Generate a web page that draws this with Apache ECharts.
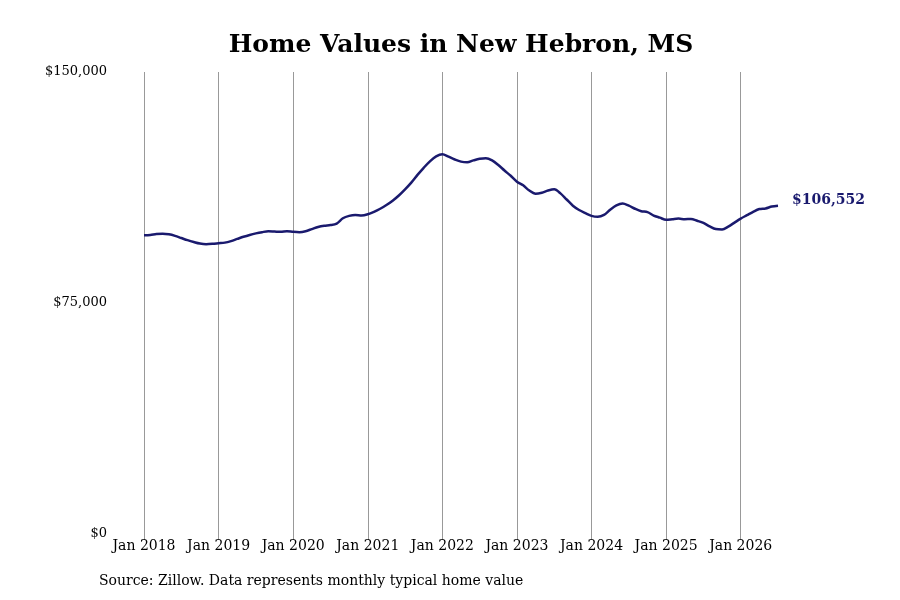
<!DOCTYPE html>
<html lang="en">
<head>
    <meta charset="UTF-8">
    <title>Home Values in New Hebron, MS</title>
    <script src="https://cdn.jsdelivr.net/npm/echarts@6/dist/echarts.min.js"></script>
</head>

<style>
    html, body {
        margin: 0;
        padding: 0;
        background: #fff;
    }
    .chart {
        width: 900px;
        height: 600px;
    }
</style>

<body>
<div id="homeChart" class="chart"></div>

<script>
    // monthly typical home value, Jan 2018 .. Jul 2026 (thousands of $)
    const years = ['2018', '2019', '2020', '2021', '2022', '2023', '2024', '2025', '2026']
    const values2018 = [97.0, 97.1, 97.4, 97.5, 97.3, 96.8, 96.1, 95.4, 94.8, 94.3, 94.1, 94.2]
    const values2019 = [94.4, 94.6, 95.1, 95.8, 96.5, 97.1, 97.6, 98.0, 98.3, 98.2, 98.1, 98.3]
    const values2020 = [98.1, 98.0, 98.3, 99.0, 99.7, 100.1, 100.3, 100.8, 102.5, 103.3, 103.6, 103.4]
    const values2021 = [103.8, 104.6, 105.6, 106.8, 108.2, 109.9, 111.9, 114.1, 116.6, 118.9, 121.0, 122.6]
    const values2022 = [123.3, 122.5, 121.6, 120.9, 120.7, 121.3, 121.8, 122.0, 121.3, 119.8, 118.0, 116.3]
    const values2023 = [114.4, 113.2, 111.5, 110.5, 110.8, 111.5, 111.9, 110.6, 108.6, 106.6, 105.2, 104.2]
    const values2024 = [103.3, 103.0, 103.6, 105.3, 106.7, 107.3, 106.6, 105.6, 104.8, 104.5, 103.4, 102.7]
    const values2025 = [102.0, 102.2, 102.4, 102.2, 102.3, 101.7, 101.0, 99.9, 99.0, 98.9, 99.8, 101.1]
    const values2026 = [102.4, 103.5, 104.6, 105.5, 105.7, 106.3, 106.552]
    const monthNames = ['Jan', 'Feb', 'Mar', 'Apr', 'May', 'Jun', 'Jul', 'Aug', 'Sep', 'Oct', 'Nov', 'Dec']
    const yTicks = [0, 75000, 150000]

    let perYear = [values2018, values2019, values2020, values2021, values2022,
        values2023, values2024, values2025, values2026]
    let months = []
    let values = []
    perYear.forEach(function (list, y) {
        list.forEach(function (v, m) {
            months.push(monthNames[m] + ' ' + years[y])
            values.push(Math.round(v * 1000))
        })
    })

    const serif = 'DejaVu Serif'
    const navy = '#1a1a6e'

    function money(v) {
        return '$' + v.toString().replace(/\B(?=(\d{3})+(?!\d))/g, ',')
    }

    let option = {
        backgroundColor: '#fff',
        animation: false,
        title: [{
            text: 'Home Values in New Hebron, MS',
            left: 456,
            textAlign: 'center',
            top: 28,
            textStyle: {fontFamily: serif, fontWeight: 'bold', fontSize: 25, color: '#000'}
        }, {
            text: 'Source: Zillow. Data represents monthly typical home value',
            left: 94,
            top: 569,
            textStyle: {fontFamily: serif, fontWeight: 'normal', fontSize: 14, color: '#000'}
        }],
        grid: {left: 144, right: 122, top: 72, bottom: 66},
        xAxis: {
            type: 'category',
            data: months,
            boundaryGap: false,
            axisLine: {show: false},
            axisTick: {show: true, interval: 11, length: 6, lineStyle: {color: '#999'}},
            splitLine: {show: true, interval: 11, lineStyle: {color: '#999', width: 1}},
            axisLabel: {
                interval: 11,
                margin: 5,
                fontFamily: serif,
                fontSize: 14,
                color: '#000'
            }
        },
        yAxis: {
            type: 'value',
            min: yTicks[0],
            max: yTicks[2],
            interval: yTicks[1],
            axisLine: {show: false},
            axisTick: {show: false},
            splitLine: {show: false},
            axisLabel: {
                margin: 37,
                padding: [5, 0, 0, 0],
                fontFamily: serif,
                fontSize: 13,
                color: '#000',
                formatter: money
            }
        },
        series: [{
            type: 'line',
            data: values,
            smooth: 0.3,
            symbol: 'none',
            lineStyle: {color: navy, width: 2.5},
            endLabel: {
                show: true,
                distance: 14,
                offset: [0, -5],
                fontFamily: serif,
                fontWeight: 'bold',
                fontSize: 14,
                color: navy,
                formatter: function (p) {
                    return money(p.value)
                }
            }
        }]
    }

    let chart = echarts.init(document.getElementById('homeChart'))
    chart.setOption(option)
</script>
</body>
</html>
